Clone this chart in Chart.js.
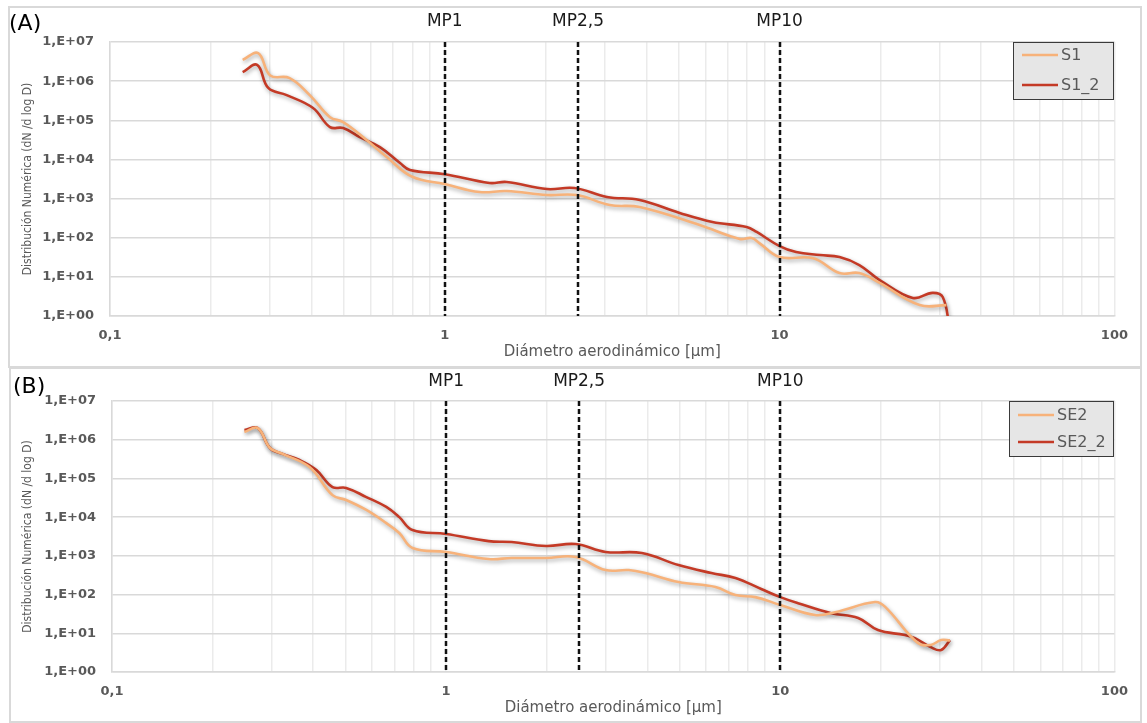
<!DOCTYPE html>
<html>
<head>
<meta charset="utf-8">
<script src="https://cdn.jsdelivr.net/npm/chart.js@4.4.1/dist/chart.umd.min.js"></script>
<style>
  body { margin: 0; background: #fff; width: 1147px; height: 723px; overflow: hidden; position: relative; }
  .panel { position: absolute; border: 2px solid #d9d9d9; box-sizing: border-box; }
  .wrap { position: absolute; }
</style>
</head>
<body>
<div class="panel" style="left:8px;top:6px;width:1134px;height:362px"></div>
<div class="panel" style="left:9px;top:367px;width:1133px;height:356px"></div>
<div class="wrap" style="left:8px;top:7px;width:1132px;height:360px"><canvas id="chartA"></canvas></div>
<div class="wrap" style="left:8px;top:368px;width:1132px;height:354px"><canvas id="chartB"></canvas></div>
<script>
// (A) diameter [um] and dN/dlogD for S1 and S1_2
const xS1 = [0.249, 0.277, 0.301, 0.344, 0.395, 0.454, 0.497, 0.585, 0.671, 0.80, 1.0, 1.27, 1.53, 2.02, 2.48, 3.11, 3.82, 5.77, 7.6, 8.25, 8.7, 10, 12.6, 15.1, 17.3, 19.9, 26.2, 31.5];
const yS1 = [3.5e6, 5.2e6, 1.4e6, 1.2e6, 4.4e5, 1.2e5, 9.0e4, 3.1e4, 1.15e4, 3.6e3, 2.35e3, 1.47e3, 1.56e3, 1.23e3, 1.23e3, 684, 608, 211, 93, 98, 73, 32, 30, 12.5, 12.5, 7.0, 1.9, 1.9];
const xS1_2 = [0.249, 0.275, 0.297, 0.337, 0.404, 0.454, 0.497, 0.557, 0.640, 0.735, 0.787, 1.0, 1.36, 1.53, 2.02, 2.44, 3.05, 3.82, 5.03, 6.3, 7.97, 8.54, 10, 11.2, 13.2, 15.1, 17.3, 19.9, 25.0, 28.6, 30.7, 32.2];
const yS1_2 = [1.7e6, 2.6e6, 6.7e5, 4.4e5, 2.06e5, 6.7e4, 6.35e4, 3.7e4, 2.07e4, 8.1e3, 5.4e3, 4.2e3, 2.5e3, 2.65e3, 1.75e3, 1.86e3, 1.1e3, 920, 428, 252, 188, 140, 61, 43, 36, 32, 20, 8.3, 2.9, 3.9, 3.05, 0.5];

// (B) SE2 and SE2_2
const xSE2 = [0.249, 0.273, 0.297, 0.324, 0.39, 0.457, 0.502, 0.577, 0.662, 0.724, 0.793, 1.0, 1.34, 1.57, 1.99, 2.44, 3.0, 3.52, 3.95, 4.96, 6.4, 7.34, 8.42, 10, 12.7, 14.6, 19.2, 20.6, 25.8, 28.2, 30.3, 32.2];
const ySE2 = [1.58e6, 2.0e6, 6.1e5, 4.3e5, 1.97e5, 3.7e4, 2.77e4, 1.53e4, 7.0e3, 3.9e3, 1.6e3, 1.26e3, 830, 880, 880, 933, 430, 430, 360, 211, 157, 97, 86, 54, 29.6, 35, 64, 48, 5.6, 5.0, 6.7, 6.5];
const xSE2_2 = [0.249, 0.273, 0.297, 0.324, 0.364, 0.409, 0.457, 0.502, 0.577, 0.662, 0.724, 0.793, 1.0, 1.34, 1.57, 1.99, 2.44, 3.0, 3.85, 4.96, 6.22, 7.34, 8.77, 10, 11.3, 14.2, 17.1, 19.6, 23.6, 25.3, 28.2, 30.3, 32.2];
const ySE2_2 = [1.78e6, 2.0e6, 6.1e5, 4.3e5, 3.0e5, 1.65e5, 6.0e4, 5.7e4, 3.3e4, 1.83e4, 1.0e4, 4.65e3, 3.66e3, 2.4e3, 2.28e3, 1.8e3, 2.02e3, 1.26e3, 1.18e3, 580, 360, 268, 139, 86, 60, 33, 24.8, 12.1, 9.0, 7.5, 4.4, 3.7, 6.7];

// axes
const xDecades = [0.1, 1, 10, 100];
const xDecadeLabels = ["0,1", "1", "10", "100"];
const yTickValues = [1, 10, 100, 1e3, 1e4, 1e5, 1e6, 1e7];
const yTickLabels = ["1,E+00", "1,E+01", "1,E+02", "1,E+03", "1,E+04", "1,E+05", "1,E+06", "1,E+07"];

// PM cut sizes
const cutSizes = [1, 2.5, 10];
const cutLabels = ["MP1", "MP2,5", "MP10"];

const orange = "#f7b27a";
const red = "#c43a26";
const grey = "#595959";

// minor grid ticks 1..9 in every decade
const xTickValues = [];
for (let d = 0; d < 3; d++) {
    for (let k = 1; k < 10; k++) {
        xTickValues.push(k === 1 ? xDecades[d] : k * xDecades[d]);
    }
}
xTickValues.push(100);

const pointsOf = (xs, ys) => xs.map((x, i) => ({ x: x, y: ys[i] }));

//soft shadow under the curves, like the original
const shadowPlugin = {
    id: "shadow",
    beforeDatasetDraw(chart) {
        const ctx = chart.ctx;
        ctx.save();
        ctx.shadowColor = "rgba(0,0,0,0.35)";
        ctx.shadowBlur = 4;
        ctx.shadowOffsetX = 1;
        ctx.shadowOffsetY = 2;
    },
    afterDatasetDraw(chart) {
        chart.ctx.restore();
    }
};

//dashed cut lines, their labels, the panel letter and the legend box
const decorPlugin = {
    id: "decor",
    afterDatasetsDraw(chart, args, opts) {
        const { ctx, chartArea } = chart;
        const x = chart.scales.x;
        ctx.save();
        ctx.strokeStyle = "#111";
        ctx.lineWidth = 2.5;
        ctx.setLineDash([5, 3]);
        cutSizes.forEach((v) => {
            const px = Math.round(x.getPixelForValue(v));
            ctx.beginPath();
            ctx.moveTo(px, chartArea.top);
            ctx.lineTo(px, chartArea.bottom);
            ctx.stroke();
        });
        ctx.setLineDash([]);
        ctx.fillStyle = "#1a1a1a";
        ctx.font = "17px 'DejaVu Sans'";
        ctx.textAlign = "center";
        ctx.textBaseline = "middle";
        cutSizes.forEach((v, i) => {
            ctx.fillText(cutLabels[i], x.getPixelForValue(v), opts.cutLabelY);
        });

        ctx.textAlign = "left";
        ctx.fillStyle = "#000";
        ctx.font = "22px 'DejaVu Sans'";
        ctx.fillText(opts.letter, opts.letterX, opts.letterY);

        // legend
        const bw = opts.boxW, bh = opts.boxH;
        const bx = Math.round(chartArea.right - bw - 1);
        const by = Math.round(chartArea.top);
        ctx.fillStyle = "#e6e6e6";
        ctx.fillRect(bx, by, bw, bh);
        ctx.strokeStyle = "#3a3a3a";
        ctx.lineWidth = 1;
        ctx.strokeRect(bx + 0.5, by + 0.5, bw, bh);
        ctx.font = "16px 'DejaVu Sans'";
        chart.data.datasets.forEach((ds, i) => {
            const ly = by + opts.rowY[i];
            ctx.strokeStyle = ds.borderColor;
            ctx.lineWidth = 2.5;
            ctx.beginPath();
            ctx.moveTo(bx + 9, ly);
            ctx.lineTo(bx + 45, ly);
            ctx.stroke();
            ctx.fillStyle = grey;
            ctx.fillText(ds.label, bx + 48, ly + 1);
        });
        ctx.restore();
    }
};

const makeChart = (id, series, p) => {
    const canvas = document.querySelector(id);
    return new Chart(canvas, {
        type: "line",
        data: {
            datasets: series.map((s) => ({
                label: s.label,
                data: pointsOf(s.xs, s.ys),
                borderColor: s.color,
                borderWidth: 2.6,
                pointRadius: 0,
                tension: 0.4,
                fill: false
            }))
        },
        options: {
            responsive: true,
            maintainAspectRatio: false,
            animation: false,
            layout: { padding: { left: 0, top: p.top, right: 23, bottom: 0 } },
            plugins: {
                legend: { display: false },
                tooltip: { enabled: false },
                decor: p.decor
            },
            scales: {
                x: {
                    type: "logarithmic",
                    min: 0.1,
                    max: 100,
                    afterBuildTicks: (s) => { s.ticks = xTickValues.map((v) => ({ value: v })); },
                    afterFit: (s) => { s.height = p.xAxisH; },
                    ticks: {
                        autoSkip: false,
                        maxRotation: 0,
                        padding: 12,
                        color: grey,
                        font: { family: "'DejaVu Sans'", size: 13, weight: "bold" },
                        callback: (v) => {
                            const i = xDecades.indexOf(v);
                            return i >= 0 ? xDecadeLabels[i] : "";
                        }
                    },
                    grid: { color: "#ebebeb", lineWidth: 1.5, drawTicks: false },
                    border: { color: "#d9d9d9", width: 1.5 },
                    title: {
                        display: true,
                        text: "Diámetro aerodinámico [µm]",
                        color: grey,
                        font: { family: "'DejaVu Sans'", size: 15 },
                        padding: { top: 0, bottom: p.xTitlePad }
                    }
                },
                y: {
                    type: "logarithmic",
                    min: 1,
                    max: 1e7,
                    afterBuildTicks: (s) => { s.ticks = yTickValues.map((v) => ({ value: v })); },
                    afterFit: (s) => { s.width = p.yAxisW; },
                    ticks: {
                        autoSkip: false,
                        padding: 16,
                        color: grey,
                        font: { family: "'DejaVu Sans'", size: 13, weight: "bold" },
                        callback: (v) => {
                            const i = yTickValues.indexOf(v);
                            return i >= 0 ? yTickLabels[i] : "";
                        }
                    },
                    grid: { color: "#d9d9d9", lineWidth: 1.5, drawTicks: false },
                    border: { color: "#d9d9d9", width: 1.5 },
                    title: {
                        display: true,
                        text: "Distribución Numérica (dN /d log D)",
                        color: grey,
                        font: { family: "'Liberation Sans Narrow', 'DejaVu Sans Condensed', sans-serif", size: 12 },
                        padding: { top: 13, bottom: 0 }
                    }
                }
            }
        },
        plugins: [shadowPlugin, decorPlugin]
    });
};

makeChart("#chartA", [
    { label: "S1", xs: xS1, ys: yS1, color: orange },
    { label: "S1_2", xs: xS1_2, ys: yS1_2, color: red }
], {
    top: 35, yAxisW: 102, xAxisH: 51, xTitlePad: 6,
    decor: { letter: "(A)", letterX: 1, letterY: 17, cutLabelY: 15, boxW: 100, boxH: 57, rowY: [13, 43] }
});

makeChart("#chartB", [
    { label: "SE2", xs: xSE2, ys: ySE2, color: orange },
    { label: "SE2_2", xs: xSE2_2, ys: ySE2_2, color: red }
], {
    top: 33, yAxisW: 104, xAxisH: 50, xTitlePad: 5,
    decor: { letter: "(B)", letterX: 5, letterY: 19, cutLabelY: 14, boxW: 104, boxH: 55, rowY: [14, 41] }
});
</script>
</body>
</html>
